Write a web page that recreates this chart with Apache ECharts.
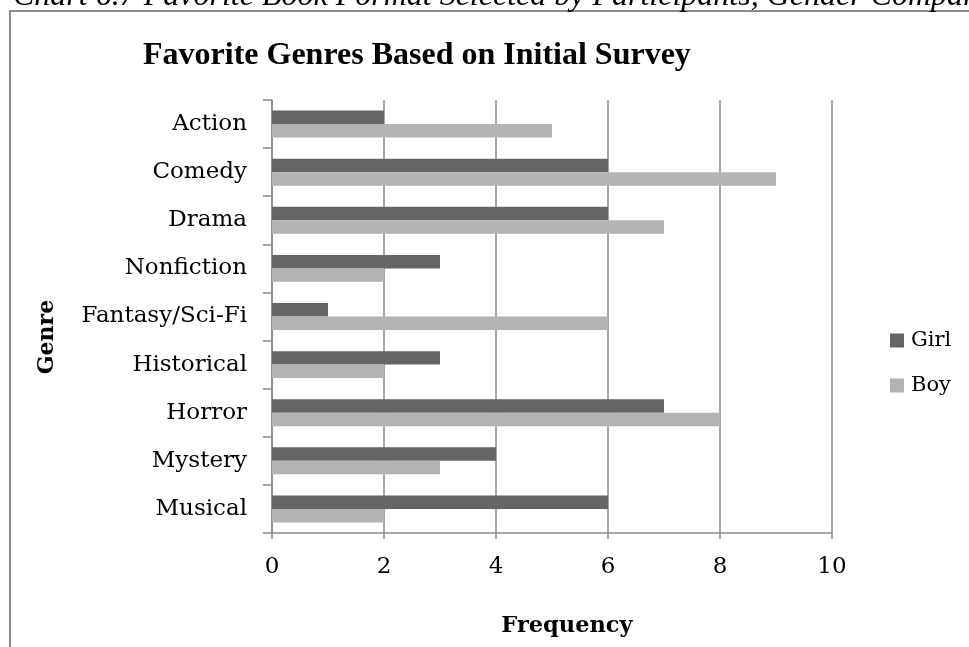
<!DOCTYPE html>
<html>
<head>
<meta charset="utf-8">
<script src="https://cdn.jsdelivr.net/npm/echarts@6/dist/echarts.min.js"></script>
<style>
  html, body { margin: 0; padding: 0; background: #ffffff; }
  #chart { width: 969px; height: 647px; }
</style>
</head>
<body>
<div id="chart"></div>
<script>
// Survey results: favorite genres by gender
const genres = ['Action', 'Comedy', 'Drama', 'Nonfiction', 'Fantasy/Sci-Fi', 'Historical', 'Horror', 'Mystery', 'Musical'];
const girlCounts = [2, 6, 6, 3, 1, 3, 7, 4, 6];
const boyCounts = [5, 9, 7, 2, 6, 2, 8, 3, 2];
const seriesNames = ['Girl', 'Boy'];
const freqTicks = [0, 2, 4, 6, 8, 10];

const GRID_COLOR = '#888888';
const labelFont = '"DejaVu Serif", serif';

const chart = echarts.init(document.getElementById('chart'), null, { renderer: 'canvas' });

chart.setOption({
  backgroundColor: '#ffffff',
  animation: false,
  graphic: [
    // frame around the chart
    {
      type: 'rect',
      shape: { x: 10, y: 11, width: 1000, height: 700 },
      style: { fill: 'none', stroke: '#8c8c8c', lineWidth: 2 },
      silent: true
    },
    // document caption above the frame
    {
      type: 'text',
      x: 13, y: -3,
      style: {
        text: 'Chart 6.7 Favorite Book Format Selected by Participants, Gender Comparison',
        font: 'italic 32px "Liberation Serif", serif',
        fill: '#000',
        align: 'left',
        verticalAlign: 'middle'
      },
      silent: true
    },
    // chart title
    {
      type: 'text',
      x: 143, y: 56,
      style: {
        text: 'Favorite Genres Based on Initial Survey',
        font: 'bold 32px "Liberation Serif", serif',
        fill: '#000',
        align: 'left',
        verticalAlign: 'middle'
      },
      silent: true
    },
    // axis titles
    {
      type: 'text',
      x: 47, y: 337,
      rotation: Math.PI / 2,
      style: {
        text: 'Genre',
        font: 'bold 22px ' + labelFont,
        fill: '#000',
        align: 'center',
        verticalAlign: 'middle'
      },
      silent: true
    },
    {
      type: 'text',
      x: 567, y: 626,
      style: {
        text: 'Frequency',
        font: 'bold 22.5px ' + labelFont,
        fill: '#000',
        align: 'center',
        verticalAlign: 'middle'
      },
      silent: true
    }
  ],
  legend: {
    orient: 'vertical',
    left: 885,
    top: 325,
    itemWidth: 14,
    itemHeight: 14,
    itemGap: 24,
    icon: 'rect',
    data: seriesNames,
    textStyle: {
      fontFamily: labelFont,
      fontSize: 21,
      color: '#000',
      padding: [0, 0, 0, 2]
    }
  },
  grid: {
    left: 272,
    right: 137,
    top: 100,
    bottom: 114,
    containLabel: false
  },
  xAxis: {
    type: 'value',
    min: 0,
    max: 10,
    interval: 2,
    axisLine: { show: true, lineStyle: { color: GRID_COLOR, width: 1.5 } },
    axisTick: { show: true, length: 6, lineStyle: { color: GRID_COLOR, width: 1.5 } },
    splitLine: { show: true, lineStyle: { color: GRID_COLOR, width: 1.5 } },
    axisLabel: {
      margin: 23,
      fontFamily: labelFont,
      fontSize: 23,
      color: '#000',
      formatter: function (v) { return freqTicks.indexOf(v) >= 0 ? String(v) : ''; }
    }
  },
  yAxis: {
    type: 'category',
    data: genres,
    inverse: true,
    axisLine: { show: true, lineStyle: { color: GRID_COLOR, width: 1.5 } },
    axisTick: { show: true, length: 9, lineStyle: { color: GRID_COLOR, width: 1.5 } },
    axisLabel: {
      margin: 25,
      fontFamily: labelFont,
      fontSize: 23,
      color: '#000'
    }
  },
  series: [
    {
      name: seriesNames[0],
      type: 'bar',
      data: girlCounts,
      barGap: '0%',
      barCategoryGap: '44%',
      itemStyle: { color: '#646464' }
    },
    {
      name: seriesNames[1],
      type: 'bar',
      data: boyCounts,
      barGap: '0%',
      barCategoryGap: '44%',
      itemStyle: { color: '#b3b3b3' }
    }
  ]
});
</script>
</body>
</html>
